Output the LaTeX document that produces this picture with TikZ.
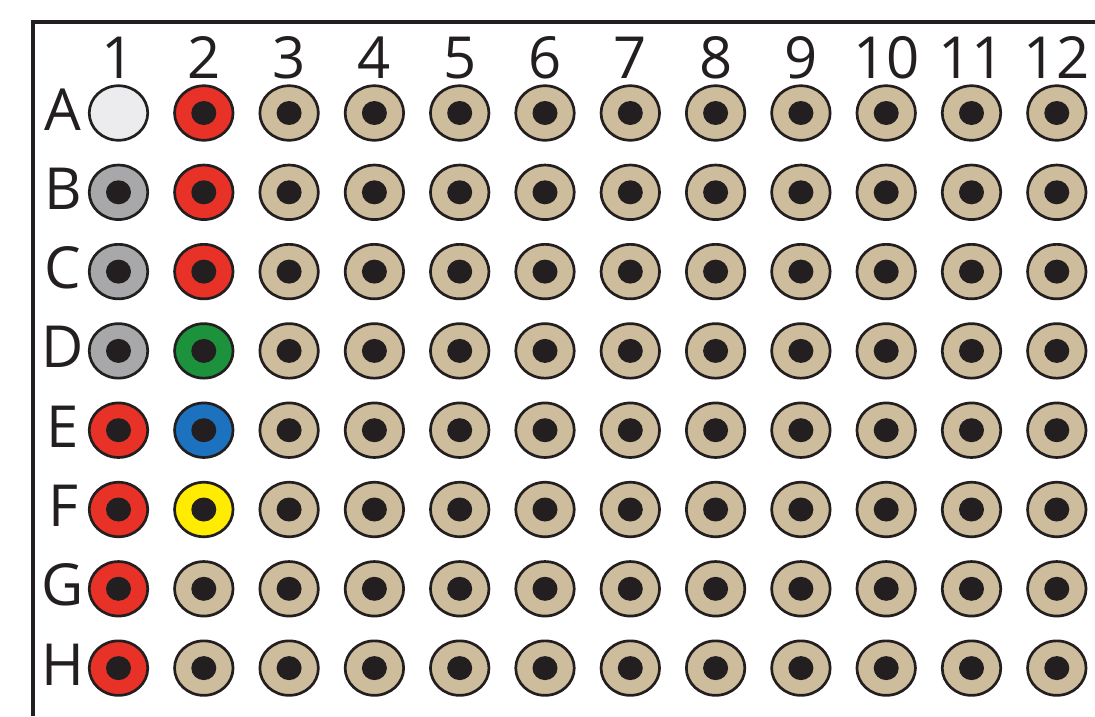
\documentclass[tikz,border=0pt]{standalone}
\usepackage{fontspec}
\setmainfont{Open Sans}
\usetikzlibrary{shapes.geometric}
\definecolor{welltan}{RGB}{205,189,156}
\definecolor{wellred}{RGB}{232,50,40}
\definecolor{wellgray}{RGB}{168,168,170}
\definecolor{wellempty}{RGB}{236,236,238}
\definecolor{wellgreen}{RGB}{28,146,60}
\definecolor{wellblue}{RGB}{28,114,190}
\definecolor{wellyellow}{RGB}{255,236,0}
\definecolor{wellrim}{RGB}{35,31,32}

\begin{document}
\begin{tikzpicture}[x=1pt, y=-1pt,
    well/.style={ellipse, draw=wellrim, line width=2.7pt, fill=welltan,
                 minimum width=58.5pt, minimum height=54.5pt, inner sep=0pt,
                 path picture={\fill[wellrim] (path picture bounding box.center)
                               ellipse (12.5pt and 12pt);}},
    emptywell/.style={ellipse, draw=wellrim, line width=2.7pt, fill=wellempty,
                 minimum width=58.5pt, minimum height=54.5pt, inner sep=0pt},
    collab/.style={anchor=base, inner sep=0pt, text=wellrim,
                   font=\fontsize{58}{60}\selectfont},
    rowlab/.style={anchor=base, inner sep=0pt, text=wellrim,
                   font=\fontsize{58}{60}\selectfont},
    plate/.style={draw=wellrim, line width=4pt}
]
\useasboundingbox (0,0) rectangle (1095,716);

% Plate edge
\draw[plate] (33,716) -- (33,22) -- (1095,22);

% Column numbers
\foreach \c in {1,...,12}
  \node[collab] (n\c) at ({118.5+(\c-1)*85.3},78) {\c};

% Row letters
\foreach \r [count=\i] in {A,...,H}
  \node[rowlab] (l\r) at (63,{113+(\i-1)*79.3+17}) {\r};

% Wells, columns 3-12
\foreach \r [count=\i] in {A,...,H}
  \foreach \c in {3,...,12}
    \node[well] (\r\c) at ({118.5+(\c-1)*85.3},{113+(\i-1)*79.3}) {};

% Column 2
\foreach \r/\col [count=\i] in {A/wellred,B/wellred,C/wellred,D/wellgreen,
                                E/wellblue,F/wellyellow,G/welltan,H/welltan}
  \node[well, fill=\col] (\r2) at (203.8,{113+(\i-1)*79.3}) {};

% Column 1
\node[emptywell] (A1) at (118.5,113) {};
\foreach \r/\col [count=\i from 2] in {B/wellgray,C/wellgray,D/wellgray,
                                       E/wellred,F/wellred,G/wellred,H/wellred}
  \node[well, fill=\col] (\r1) at (118.5,{113+(\i-1)*79.3}) {};
\end{tikzpicture}
\end{document}
